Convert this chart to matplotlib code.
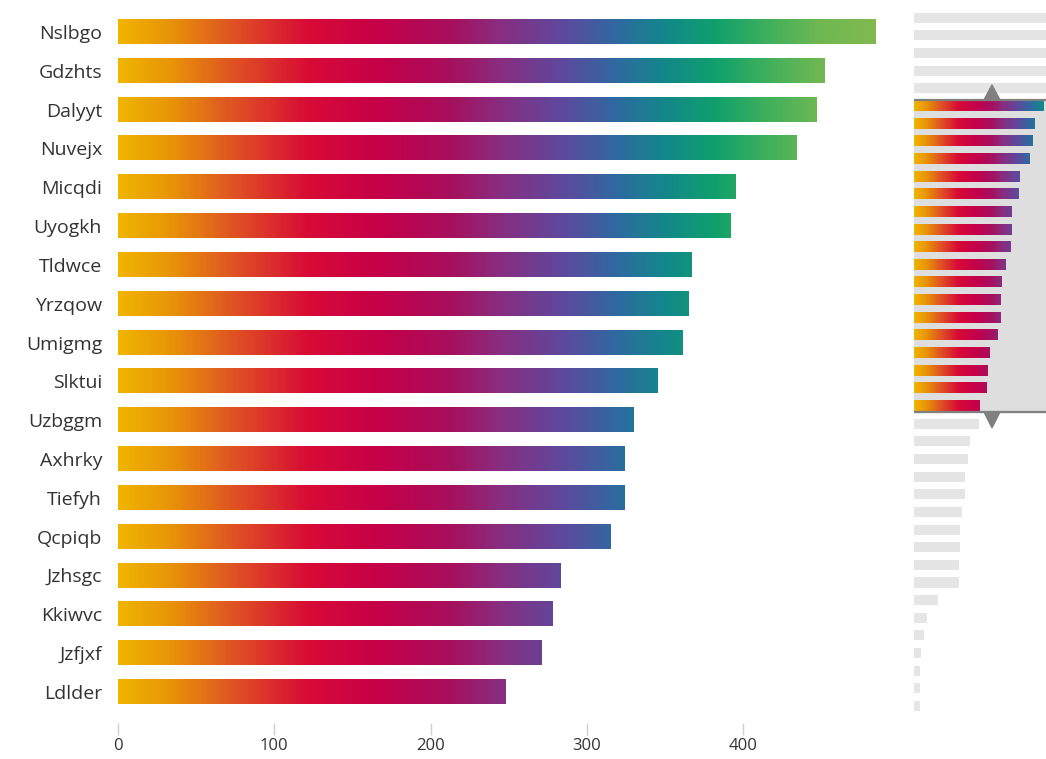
import numpy as np
import matplotlib
matplotlib.use("Agg")
import matplotlib.pyplot as plt
from matplotlib.colors import LinearSegmentedColormap
from matplotlib.patches import Polygon


# bars shown in the main view (the brushed window)
names = ["Nslbgo", "Gdzhts", "Dalyyt", "Nuvejx", "Micqdi", "Uyogkh", "Tldwce",
         "Yrzqow", "Umigmg", "Slktui", "Uzbggm", "Axhrky", "Tiefyh", "Qcpiqb",
         "Jzhsgc", "Kkiwvc", "Jzfjxf", "Ldlder"]
values = [485, 452, 447, 434, 395, 392, 367, 365, 361, 345, 330, 324, 324, 315,
          283, 278, 271, 248]

# minimap: bars above and below the window (gray)
above_values = [660, 620, 590, 560, 520]
below_values = [244, 211, 204, 192, 191, 180, 174, 173, 169, 168, 89, 50, 38,
                25, 23, 22, 22]
main_ticks = [0, 100, 200, 300, 400]

stops = [
    (0.00, "#F0B400"), (0.07, "#E89208"), (0.14, "#E05A20"), (0.25, "#D80A36"),
    (0.35, "#C4004A"), (0.44, "#A6105E"), (0.50, "#8A2C7E"), (0.59, "#5C4A9E"),
    (0.66, "#2E6AA0"), (0.72, "#14868C"), (0.79, "#10A06C"), (0.86, "#40B05C"),
    (0.93, "#70B852"), (1.00, "#82B850"),
]
cmap = LinearSegmentedColormap.from_list("bars", stops)

plt.rcParams["font.family"] = ["Open Sans", "DejaVu Sans"]

W, H = 1046, 759
fig = plt.figure(figsize=(W / 100, H / 100), dpi=100)


def gradient_bar(ax, y, value, height, vmax):
    grad = np.linspace(0, value, 256) / vmax
    ax.imshow(cmap(grad)[None, :, :], extent=[0, value, y + height / 2, y - height / 2],
              aspect="auto", interpolation="bilinear", zorder=3)


# ---- main chart ----
ax = fig.add_axes([118 / W, 1 - 723 / H, 758 / W, 723 / H])
vmax = max(values)
for i, v in enumerate(values):
    gradient_bar(ax, i, v, 0.62, vmax)

ax.set_xlim(0, vmax)
ax.set_ylim(17.80, -0.824)
ax.set_yticks(range(len(names)))
ax.set_yticklabels(names, fontsize=14, color="#333333")
ax.set_xticks(main_ticks)
ax.set_xticklabels([str(t) for t in main_ticks], fontsize=12, color="#333333")
ax.tick_params(axis="y", length=0, pad=11.5)
ax.tick_params(axis="x", length=8.6, width=1, color="#d0d0d0", pad=2)
for s in ax.spines.values():
    s.set_visible(False)

# ---- minimap ----
mx = fig.add_axes([914 / W, 0, 132 / W, 1])
all_max = max(above_values + values + below_values)
n_above = len(above_values)
win_top = n_above - 0.34
win_bot = n_above + len(values) - 1 + 0.34
mx.axhspan(win_top, win_bot, color="#DEDEDE", zorder=1)
mx.axhline(win_top, color="#808080", lw=1.6, zorder=4)
mx.axhline(win_bot, color="#808080", lw=1.6, zorder=4)

mx.barh(range(n_above), above_values, height=0.567, color="#E5E5E5", zorder=2)
for i, v in enumerate(values):
    gradient_bar(mx, n_above + i, v, 0.567, all_max)
start = n_above + len(values)
mx.barh(range(start, start + len(below_values)), below_values, height=0.567,
        color="#E5E5E5", zorder=2)

hx = 293
mx.add_patch(Polygon([[hx - 30, win_top], [hx + 30, win_top], [hx, win_top - 0.85]],
                     closed=True, color="#808080", zorder=5))
mx.add_patch(Polygon([[hx - 30, win_bot], [hx + 30, win_bot], [hx, win_bot + 0.9]],
                     closed=True, color="#808080", zorder=5))

mx.set_xlim(0, 496)
mx.set_ylim(42.0, -1.003)
mx.axis("off")

fig.savefig("out.png", dpi=100)
